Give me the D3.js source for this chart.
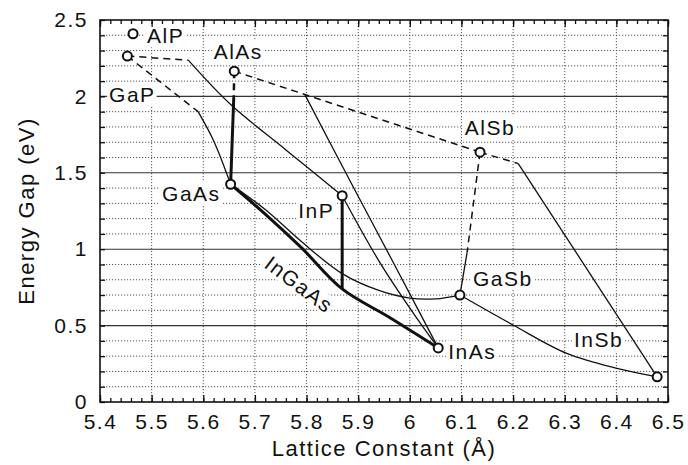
<!DOCTYPE html>
<html>
<head>
<meta charset="utf-8">
<script src="https://cdn.jsdelivr.net/npm/d3@7"></script>
<style>
  body { margin: 0; background: #fff; }
  text { font-family: "Liberation Sans", Arial, Helvetica, sans-serif; fill: #111; }
  .tick text { font-size: 21px; letter-spacing: 1.5px; }
  .lbl { font-size: 21px; letter-spacing: 1.5px; }
  .title { font-size: 22px; letter-spacing: 1.5px; }
</style>
</head>
<body>
<svg id="chart" width="688" height="465"></svg>
<script>
// binary compounds
var compounds = ["AlP", "GaP", "AlAs", "GaAs", "InP", "AlSb", "GaSb", "InAs", "InSb"];
var latticeConst = [5.464, 5.453, 5.660, 5.653, 5.869, 6.136, 6.097, 6.055, 6.479];
var energyGap = [2.41, 2.264, 2.165, 1.425, 1.35, 1.635, 0.70, 0.354, 0.165];

// ternary / quaternary alloy curves, [lattice constant, gap]
var gaAsP_ind = [[5.453, 2.264], [5.590, 1.90]];
var gaAsP_dir = [[5.590, 1.90], [5.620, 1.71], [5.653, 1.425]];
var gaInP_ind = [[5.453, 2.264], [5.571, 2.237]];
var gaInP_dir = [[5.571, 2.237], [5.652, 1.95], [5.76, 1.65], [5.869, 1.35]];
var alGaAs_ind = [[5.660, 2.165], [5.659, 1.99]];
var alGaAs_dir = [[5.659, 1.99], [5.653, 1.425]];
var alAsSb_ind = [[5.660, 2.165], [6.136, 1.635]];
var alInAs_dir = [[5.797, 2.01], [5.89, 1.41], [5.97, 0.90], [6.055, 0.354]];
var inAsP = [[5.869, 1.35], [5.943, 0.907], [6.007, 0.58], [6.055, 0.354]];
var inGaAs = [[5.653, 1.425], [5.72, 1.23], [5.79, 1.01], [5.869, 0.74], [5.96, 0.555], [6.055, 0.354]];
var inGaAsP = [[5.869, 1.35], [5.869, 0.74]];
var gaAsSb = [[5.653, 1.425], [5.72, 1.26], [5.79, 1.05], [5.869, 0.84], [5.94, 0.73], [6.00, 0.68], [6.05, 0.675], [6.097, 0.70]];
var alGaSb_ind = [[6.136, 1.635], [6.111, 0.98]];
var alGaSb_dir = [[6.111, 0.98], [6.097, 0.70]];
var alInSb_ind = [[6.136, 1.635], [6.21, 1.56]];
var alInSb_dir = [[6.21, 1.56], [6.479, 0.165]];
var gaInSb = [[6.097, 0.70], [6.201, 0.502], [6.304, 0.318], [6.401, 0.22], [6.479, 0.165]];

// axis ticks
var xTicks = [5.4, 5.5, 5.6, 5.7, 5.8, 5.9, 6.0, 6.1, 6.2, 6.3, 6.4, 6.5];
var xTickLabels = ["5.4", "5.5", "5.6", "5.7", "5.8", "5.9", "6", "6.1", "6.2", "6.3", "6.4", "6.5"];
var yTicks = [0, 0.5, 1, 1.5, 2, 2.5];
var yTickLabels = ["0", "0.5", "1", "1.5", "2", "2.5"];

(function () {
  var svg = d3.select('#chart');
  var pLeft = 100, pRight = 668, pTop = 20, pBottom = 402;

  var x = d3.scaleLinear().domain([5.4, 6.5]).range([pLeft, pRight]);
  var y = d3.scaleLinear().domain([0, 2.5]).range([pBottom, pTop]);

  /**
   * Grid
   */
  var grid = svg.append('g');
  grid.selectAll('.vgrid')
    .data(x.ticks(11).slice(1, -1))
    .enter().append('line')
    .attr('x1', function (d) { return x(d); })
    .attr('x2', function (d) { return x(d); })
    .attr('y1', pTop).attr('y2', pBottom)
    .attr('stroke', '#444').attr('stroke-width', 0.9)
    .attr('stroke-dasharray', '1.2,1.8');
  grid.selectAll('.hgrid')
    .data(y.ticks(25).filter(function (d) { return d > 0 && d < 2.5 && Math.round(d * 10) % 5 !== 0; }))
    .enter().append('line')
    .attr('x1', pLeft).attr('x2', pRight)
    .attr('y1', function (d) { return y(d); })
    .attr('y2', function (d) { return y(d); })
    .attr('stroke', '#444').attr('stroke-width', 0.9)
    .attr('stroke-dasharray', '1.2,1.8');
  grid.selectAll('.hsolid')
    .data(yTicks.slice(1, -1))
    .enter().append('line')
    .attr('x1', pLeft).attr('x2', pRight)
    .attr('y1', function (d) { return y(d); })
    .attr('y2', function (d) { return y(d); })
    .attr('stroke', '#333').attr('stroke-width', 1.1);

  /**
   * Labels with white boxes
   */
  var labelPos = {
    AlP: [14, 2, 'start'], GaP: [5, 38, 'middle'], AlAs: [4, -20, 'middle'],
    GaAs: [-10, 9, 'end'], InP: [-8, 15, 'end'], AlSb: [10, -25, 'middle'],
    GaSb: [13, -17, 'start'], InAs: [10, 4, 'start'], InSb: [-34, -37, 'end']
  };
  var labels = svg.append('g');
  compounds.forEach(function (c, i) {
    var p = labelPos[c];
    var g = labels.append('g');
    var t = g.append('text').attr('class', 'lbl')
      .attr('x', x(latticeConst[i]) + p[0])
      .attr('y', y(energyGap[i]) + p[1])
      .attr('dy', '0.36em')
      .attr('text-anchor', p[2])
      .text(c);
    var b = t.node().getBBox();
    g.insert('rect', 'text')
      .attr('x', b.x - 2).attr('y', b.y).attr('width', b.width + 3).attr('height', b.height)
      .attr('fill', '#fff');
  });
  // InGaAs label along the bold line
  var ig = labels.append('g')
    .attr('transform', 'translate(' + (x(5.84) - 28) + ',' + (y(0.75) - 3) + ') rotate(37)');
  var igt = ig.append('text').attr('class', 'lbl').attr('text-anchor', 'middle').attr('dy', '0.36em').text('InGaAs');
  var igb = igt.node().getBBox();
  ig.insert('rect', 'text').attr('x', igb.x - 2).attr('y', igb.y + 2).attr('width', igb.width + 3).attr('height', igb.height - 4).attr('fill', '#fff');

  /**
   * Alloy curves
   */
  var line = d3.line()
    .x(function (d) { return x(d[0]); })
    .y(function (d) { return y(d[1]); })
    .curve(d3.curveCatmullRom.alpha(0.5));

  function draw(pts, w, dashed) {
    svg.append('path')
      .attr('d', line(pts))
      .attr('fill', 'none')
      .attr('stroke', '#111')
      .attr('stroke-width', w)
      .attr('stroke-dasharray', dashed ? '7,5' : null);
  }
  draw(gaAsP_ind, 1.5, true);
  draw(gaAsP_dir, 1.3, false);
  draw(gaInP_ind, 1.5, true);
  draw(gaInP_dir, 1.3, false);
  draw(alGaAs_ind, 2.5, true);
  draw(alGaAs_dir, 3, false);
  draw(alAsSb_ind, 1.5, true);
  draw(alInAs_dir, 1.3, false);
  draw(inAsP, 1.3, false);
  draw(gaAsSb, 1.3, false);
  draw(inGaAs, 3, false);
  draw(inGaAsP, 3, false);
  draw(alGaSb_ind, 1.5, true);
  draw(alGaSb_dir, 1.3, false);
  draw(alInSb_ind, 1.5, true);
  draw(alInSb_dir, 1.3, false);
  draw(gaInSb, 1.3, false);

  svg.selectAll('.pt')
    .data(compounds)
    .enter().append('circle')
    .attr('cx', function (d, i) { return x(latticeConst[i]); })
    .attr('cy', function (d, i) { return y(energyGap[i]); })
    .attr('r', 4.5)
    .attr('fill', '#fff')
    .attr('stroke', '#111')
    .attr('stroke-width', 2);

  /**
   * Axes (ticks inward)
   */
  function axisStyle(g) {
    g.select('.domain').remove();
    g.selectAll('line').attr('stroke', '#111').attr('stroke-width', 1.3);
  }
  svg.append('g').attr('transform', 'translate(0,' + pBottom + ')')
    .call(d3.axisBottom(x).ticks(55).tickSize(-4).tickFormat('')).call(axisStyle);
  svg.append('g').attr('transform', 'translate(0,' + pBottom + ')')
    .call(d3.axisBottom(x).tickValues(xTicks).tickSize(-7).tickPadding(12)
      .tickFormat(function (d, i) { return xTickLabels[i]; }))
    .call(axisStyle);
  svg.append('g').attr('transform', 'translate(0,' + pTop + ')')
    .call(d3.axisTop(x).ticks(55).tickSize(-4).tickFormat('')).call(axisStyle);
  svg.append('g').attr('transform', 'translate(0,' + pTop + ')')
    .call(d3.axisTop(x).tickValues(xTicks).tickSize(-7).tickFormat('')).call(axisStyle);
  svg.append('g').attr('transform', 'translate(' + pLeft + ',0)')
    .call(d3.axisLeft(y).ticks(25).tickSize(-5).tickFormat('')).call(axisStyle);
  svg.append('g').attr('transform', 'translate(' + pLeft + ',0)')
    .call(d3.axisLeft(y).tickValues(yTicks).tickSize(0).tickPadding(12)
      .tickFormat(function (d, i) { return yTickLabels[i]; }))
    .call(axisStyle);
  svg.append('g').attr('transform', 'translate(' + pRight + ',0)')
    .call(d3.axisRight(y).ticks(25).tickSize(-5).tickFormat('')).call(axisStyle);

  svg.append('rect')
    .attr('x', pLeft).attr('y', pTop)
    .attr('width', pRight - pLeft).attr('height', pBottom - pTop)
    .attr('fill', 'none').attr('stroke', '#111').attr('stroke-width', 1.6);

  svg.append('text').attr('class', 'title')
    .attr('x', (pLeft + pRight) / 2).attr('y', 456)
    .attr('text-anchor', 'middle')
    .text('Lattice Constant (Å)');
  svg.append('text').attr('class', 'title')
    .attr('transform', 'translate(34,' + (pTop + pBottom) / 2 + ') rotate(-90)')
    .attr('text-anchor', 'middle')
    .text('Energy Gap (eV)');
})();
</script>
</body>
</html>
